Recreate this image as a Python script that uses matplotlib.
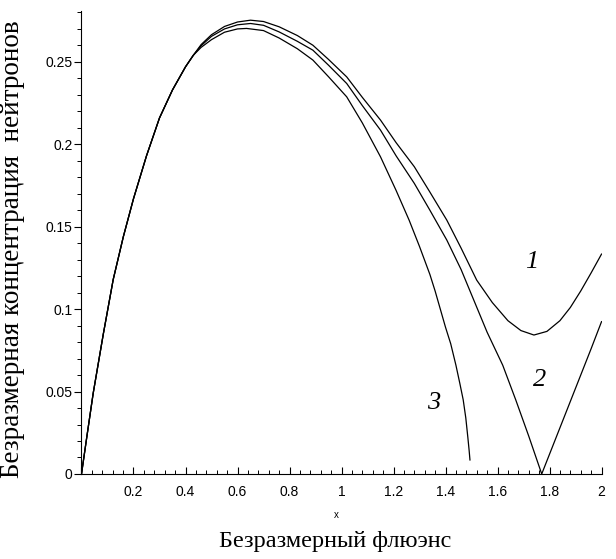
import matplotlib.pyplot as plt
from matplotlib.ticker import MultipleLocator, FuncFormatter

# common rising part of all three curves
x_common = [0, 0.02, 0.045, 0.084, 0.122, 0.161, 0.2, 0.25, 0.3, 0.35, 0.4, 0.43]
y_common = [0, 0.022, 0.049, 0.085, 0.118, 0.144, 0.167, 0.193, 0.216, 0.233, 0.247, 0.254]

x1 = [0.46, 0.5, 0.55, 0.6, 0.65, 0.7, 0.76, 0.83, 0.89, 0.95, 1.02, 1.08, 1.15, 1.21, 1.28,
      1.34, 1.405, 1.46, 1.52, 1.58, 1.64, 1.69, 1.74, 1.79, 1.84, 1.88, 1.92, 1.96, 2.0]
y1 = [0.2605, 0.2665, 0.2715, 0.2742, 0.2753, 0.2745, 0.2713, 0.2660, 0.2601, 0.2515, 0.2409,
      0.2285, 0.2147, 0.2010, 0.1864, 0.171, 0.154, 0.137, 0.1176, 0.104, 0.093, 0.087,
      0.0843, 0.0865, 0.093, 0.101, 0.111, 0.122, 0.1334]

x2 = [0.46, 0.5, 0.55, 0.6, 0.65, 0.7, 0.76, 0.83, 0.89, 0.95, 1.02, 1.08, 1.15, 1.21, 1.28,
      1.34, 1.405, 1.46, 1.51, 1.56, 1.62, 1.67, 1.72, 1.77, 1.82, 1.87, 1.92, 1.96, 2.0]
y2 = [0.2598, 0.2655, 0.270, 0.2725, 0.2733, 0.2722, 0.2682, 0.2625, 0.2571, 0.248, 0.2369,
      0.2235, 0.2086, 0.193, 0.1763, 0.160, 0.1419, 0.124, 0.105, 0.086, 0.066, 0.045,
      0.023, 0.0, 0.020, 0.040, 0.060, 0.076, 0.0924]

x3 = [0.46, 0.5, 0.55, 0.6, 0.635, 0.7, 0.76, 0.83, 0.89, 0.95, 1.02, 1.08, 1.15, 1.21, 1.26,
      1.3, 1.34, 1.36, 1.38, 1.40, 1.42, 1.44, 1.455, 1.468, 1.478, 1.486, 1.491, 1.494]
y3 = [0.2588, 0.2635, 0.268, 0.2700, 0.2703, 0.2690, 0.2645, 0.258, 0.2511, 0.241, 0.2288,
      0.213, 0.1924, 0.172, 0.154, 0.138, 0.121, 0.111, 0.100, 0.089, 0.079, 0.066, 0.055,
      0.045, 0.034, 0.022, 0.014, 0.0085]

curve_labels = ['1', '2', '3']
label_x = [1.732, 1.763, 1.353]
label_y = [0.1287, 0.057, 0.0429]

fig = plt.figure(figsize=(6.16, 5.59), dpi=100)
ax = fig.add_axes([0.1323, 0.1521, 0.8442, 0.828])

for xs, ys in [(x1, y1), (x2, y2), (x3, y3)]:
    ax.plot(x_common + xs, y_common + ys, color='black', lw=0.9)

for t, lx, ly in zip(curve_labels, label_x, label_y):
    ax.text(lx, ly, t, family='Liberation Serif', style='italic', fontsize=19,
            ha='center', va='center')

ax.set_xlim(0, 2)
ax.set_ylim(0, 0.2808)
ax.spines['top'].set_visible(False)
ax.spines['right'].set_visible(False)
ax.spines['left'].set_linewidth(0.8)
ax.spines['bottom'].set_linewidth(0.8)

ax.xaxis.set_major_locator(MultipleLocator(0.2))
ax.xaxis.set_minor_locator(MultipleLocator(0.04))
ax.yaxis.set_major_locator(MultipleLocator(0.05))
ax.yaxis.set_minor_locator(MultipleLocator(0.01))
# the x=0 label is left out, the y-axis "0" covers it
ax.xaxis.set_major_formatter(FuncFormatter(lambda v, p: '' if abs(v) < 1e-9 else f'{v:g}'))
ax.yaxis.set_major_formatter(FuncFormatter(lambda v, p: f'{v:g}'))

ax.tick_params(axis='x', which='major', direction='in', length=5, width=0.8, pad=8,
               labelsize=10)
ax.tick_params(axis='x', which='minor', direction='in', length=3, width=0.7)
ax.tick_params(axis='y', which='major', direction='out', length=5, width=0.8, pad=1.5,
               labelsize=10)
ax.tick_params(axis='y', which='minor', direction='out', length=3, width=0.7)
for lab in ax.get_xticklabels() + ax.get_yticklabels():
    lab.set_family('Liberation Sans')

fig.text(336 / 616, 1 - 515 / 559, 'x', family='Liberation Sans', fontsize=7,
         ha='center', va='center')
fig.text(335 / 616, 1 - 541 / 559, 'Безразмерный флюэнс', family='Liberation Serif',
         fontsize=17.5, ha='center', va='center')
fig.text(13 / 616, 1 - 249 / 559, 'Безразмерная концентрация  нейтронов',
         family='Liberation Serif', fontsize=19.5, rotation=90, ha='center', va='center')

fig.savefig('out.png', dpi=100)
